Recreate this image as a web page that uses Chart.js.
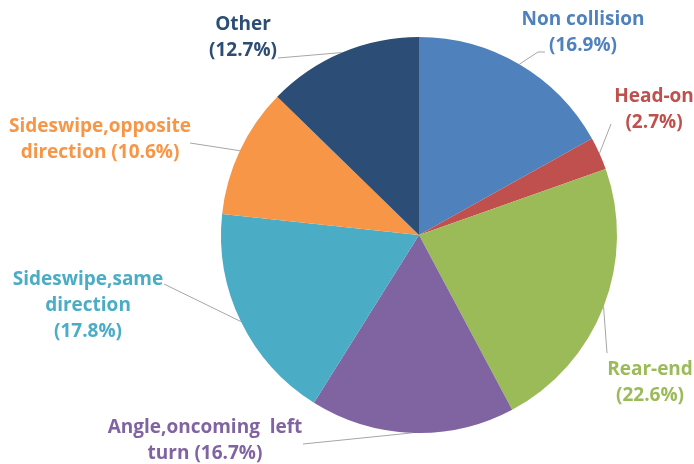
<!DOCTYPE html>
<html>
<head>
<meta charset="utf-8">
<script src="https://cdn.jsdelivr.net/npm/chart.js@4.4.1/dist/chart.umd.min.js"></script>
<style>
  html, body { margin: 0; padding: 0; background: #fff; }
  #wrap { width: 694px; height: 464px; position: relative; }
</style>
</head>
<body>
<div id="wrap"><canvas id="chart" width="694" height="464"></canvas></div>
<script>
const categories = ['Non collision', 'Head-on', 'Rear-end', 'Angle,oncoming left turn',
    'Sideswipe,same direction', 'Sideswipe,opposite direction', 'Other'];
const shares = [16.9, 2.7, 22.6, 16.7, 17.8, 10.6, 12.7];
const colors = ['#4F81BD', '#C0504D', '#9BBB59', '#8064A2', '#4BACC6', '#F79646', '#2C4D75'];

// label text lines and where they sit; anchor = where the leader line meets the text
const labelLayout = [
    { lines: ['Non collision', '(16.9%)'], x: 583, y: 20, anchor: [545, 52], elbow: [538, 52] },
    { lines: ['Head-on', '(2.7%)'], x: 654, y: 97, anchor: [611, 124], elbow: [611, 124] },
    { lines: ['Rear-end', '(22.6%)'], x: 650, y: 370, anchor: [607, 353], elbow: [607, 353] },
    { lines: ['Angle,oncoming  left', 'turn (16.7%)'], x: 205, y: 428, anchor: [303, 444], elbow: [303, 444] },
    { lines: ['Sideswipe,same', 'direction', '(17.8%)'], x: 88, y: 280, anchor: [164, 284], elbow: [164, 284] },
    { lines: ['Sideswipe,opposite', 'direction (10.6%)'], x: 100, y: 127, anchor: [190, 143], elbow: [190, 143] },
    { lines: ['Other', '(12.7%)'], x: 243, y: 25, anchor: [278, 58], elbow: [278, 58] }
];

const outsideLabels = {
    id: 'outsideLabels',
    afterDatasetsDraw(chart) {
        const ctx = chart.ctx;
        const meta = chart.getDatasetMeta(0);
        ctx.save();
        meta.data.forEach((arc, i) => {
            const L = labelLayout[i];
            const mid = (arc.startAngle + arc.endAngle) / 2;
            const px = arc.x + Math.cos(mid) * arc.outerRadius;
            const py = arc.y + Math.sin(mid) * arc.outerRadius;
            ctx.strokeStyle = '#A6A6A6';
            ctx.lineWidth = 1;
            ctx.beginPath();
            ctx.moveTo(px, py);
            ctx.lineTo(L.elbow[0], L.elbow[1]);
            ctx.lineTo(L.anchor[0], L.anchor[1]);
            ctx.stroke();

            ctx.fillStyle = colors[i];
            ctx.font = 'bold 19px "Open Sans", sans-serif';
            ctx.textAlign = 'center';
            ctx.textBaseline = 'middle';
            L.lines.forEach((t, k) => ctx.fillText(t, L.x, L.y + k * 26));
        });
        ctx.restore();
    }
};

new Chart(document.getElementById('chart'), {
    type: 'pie',
    data: {
        labels: categories,
        datasets: [{ data: shares, backgroundColor: colors, borderWidth: 0 }]
    },
    options: {
        responsive: false,
        animation: false,
        layout: { padding: { left: 221, right: 77, top: 37, bottom: 31 } },
        plugins: { legend: { display: false }, tooltip: { enabled: false } }
    },
    plugins: [outsideLabels]
});
</script>
</body>
</html>
